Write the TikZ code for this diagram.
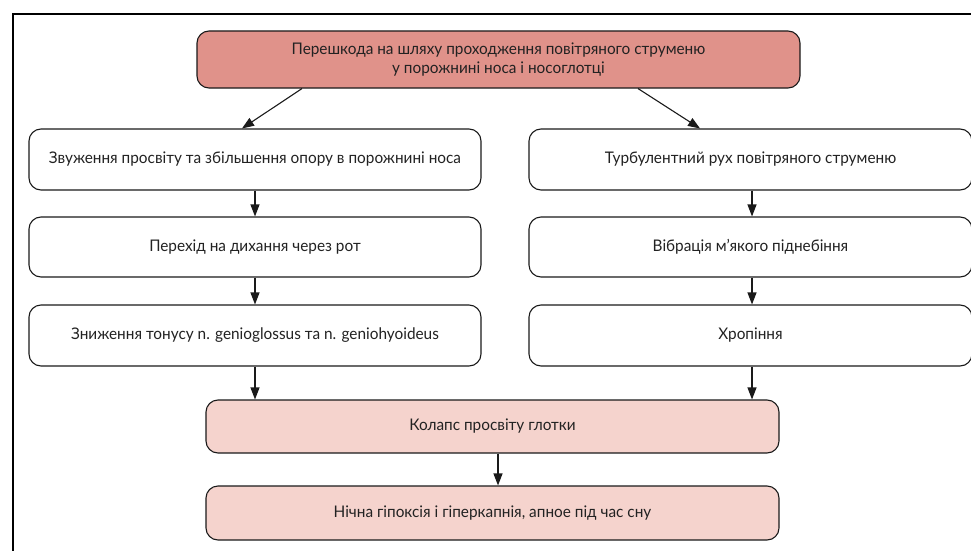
\documentclass[tikz,border=0pt]{standalone}
\usepackage{fontspec}
\setmainfont{Lato}[FakeStretch=0.96]
\usetikzlibrary{arrows.meta}
\definecolor{topfill}{HTML}{E0928A}
\definecolor{pinkfill}{HTML}{F5D3CD}
\definecolor{edge}{HTML}{1A1A1A}
\definecolor{txt}{HTML}{222222}
\begin{document}
\begin{tikzpicture}[x=1pt,y=-1pt,
  box/.style={draw=edge, line width=1.1pt, rounded corners=12pt, align=center,
    inner sep=0pt, fill=white, text=txt, font=\fontsize{16}{19}\selectfont},
  arr/.style={draw=edge, line width=1.1pt, -{Triangle[length=12pt,width=9pt]}},
  frameline/.style={draw=black, line width=1.6pt}]
\useasboundingbox (0,0) rectangle (971,551);
\draw[frameline] (13,551) -- (13,14) -- (971,14);
\node[box, fill=topfill, minimum width=603pt, minimum height=57pt] (top) at (498.5,59.5)
  {Перешкода на шляху проходження повітряного струменю\\у порожнині носа і носоглотці};
\node[box, minimum width=452pt, minimum height=61pt] (l1) at (255,159.5)
  {Звуження просвіту та збільшення опору в порожнині носа};
\node[box, minimum width=452pt, minimum height=60pt] (l2) at (255,247)
  {Перехід на дихання через рот};
\node[box, minimum width=452pt, minimum height=61pt] (l3) at (255,335.5)
  {Зниження тонусу n. genioglossus та n. geniohyoideus};
\node[box, minimum width=443pt, minimum height=61pt] (r1) at (750.5,159.5)
  {Турбулентний рух повітряного струменю};
\node[box, minimum width=443pt, minimum height=60pt] (r2) at (750.5,247)
  {Вібрація м’якого піднебіння};
\node[box, minimum width=443pt, minimum height=61pt] (r3) at (750.5,335.5)
  {Хропіння};
\node[box, fill=pinkfill, minimum width=573pt, minimum height=53pt] (k) at (492.5,426.5)
  {Колапс просвіту глотки};
\node[box, fill=pinkfill, minimum width=573pt, minimum height=54pt] (n) at (492.5,513)
  {Нічна гіпоксія і гіперкапнія, апное під час сну};
\draw[arr] ([xshift=-196.5pt]top.south) -- ([xshift=-13pt]l1.north);
\draw[arr] ([xshift=139.5pt]top.south) -- ([xshift=-50.5pt]r1.north);
\draw[arr] (l1.south) -- (l2.north);
\draw[arr] (l2.south) -- (l3.north);
\draw[arr] ([xshift=1.5pt]r1.south) -- ([xshift=1.5pt]r2.north);
\draw[arr] ([xshift=1.5pt]r2.south) -- ([xshift=1.5pt]r3.north);
\draw[arr] (l3.south) -- (l3.south |- k.north);
\draw[arr] ([xshift=1.5pt]r3.south) -- ([xshift=1.5pt]r3.south |- k.north);
\draw[arr] ([xshift=5.5pt]k.south) -- ([xshift=5.5pt]n.north);
\end{tikzpicture}
\end{document}
